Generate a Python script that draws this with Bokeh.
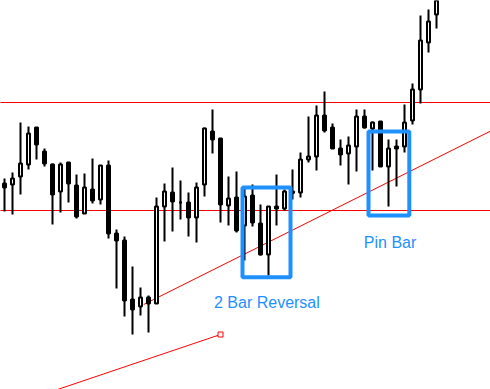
from bokeh.plotting import figure
from bokeh.models import Range1d, ColumnDataSource
from bokeh.embed import file_html
from bokeh.resources import INLINE
from bokeh.core.properties import value

# OHLC prices per bar (index 0 = oldest)
opens = [217, 216, 224, 236, 273, 249, 236, 209, 238, 215, 187, 211, 201, 235, 167, 160, 101, 94, 103, 97,
         194, 208, 198, 198, 183, 216, 269, 262, 195, 203, 175, 205, 177, 146, 194, 192, 209, 208, 241, 244,
         285, 273, 252, 247, 254, 284, 272, 279, 234, 254, 254, 280, 311, 358, 386]
highs = [222, 228, 278, 274, 273, 252, 237, 238, 238, 226, 227, 242, 235, 240, 171, 164, 134, 113, 105, 203,
         217, 233, 220, 208, 218, 273, 291, 262, 224, 229, 214, 216, 196, 194, 226, 211, 231, 248, 284, 295,
         309, 277, 261, 264, 291, 291, 279, 279, 261, 261, 296, 317, 385, 391, 410]
lows = [189, 186, 206, 231, 241, 234, 176, 188, 198, 182, 187, 197, 196, 162, 112, 84, 66, 85, 68, 97,
        159, 169, 181, 164, 158, 204, 247, 178, 175, 168, 140, 174, 145, 125, 175, 190, 201, 203, 238, 230,
        268, 252, 235, 216, 229, 272, 230, 234, 194, 214, 248, 276, 297, 348, 372]
closes = [213, 222, 237, 267, 256, 237, 206, 236, 217, 184, 213, 200, 235, 167, 160, 100, 91, 103, 97, 194,
          209, 199, 198, 183, 213, 272, 261, 196, 202, 170, 204, 178, 146, 194, 192, 209, 207.5, 241, 244, 285,
          270, 252, 246, 255, 284, 273, 278, 234, 252, 252, 278, 311, 360, 379, 405]

# Horizontal support / resistance levels
levels = [298, 190]

# Trend lines as (bar index, price) anchor pairs
trend_up_x = [17.4, 60.75]
trend_up_y = [96, 269.4]
trend_low_x = [6.5, 27]
trend_low_y = [10.65, 66]

# Pattern boxes: left, right, bottom, top (bar index / price)
box_left = [29.75, 45.5]
box_right = [35.75, 50.6]
box_bottom = [123.3, 185]
box_top = [213, 269]

# Pattern labels
label_text = ["2 Bar Reversal", "Pin Bar"]
label_x = [32.8, 48.2]
label_y = [98, 158.5]

RED = "#ff0000"
BLUE = "#1e90ff"

n = len(opens)
idx = list(range(n))
bull = [c >= o for o, c in zip(opens, closes)]
src = ColumnDataSource(dict(
    x=idx,
    high=highs,
    low=lows,
    top=[max(o, c) for o, c in zip(opens, closes)],
    bottom=[min(o, c) for o, c in zip(opens, closes)],
    fill=["white" if b else "black" for b in bull],
))

p = figure(width=490, height=389, output_backend="svg", toolbar_location=None,
           x_range=Range1d(-0.5, 60.75), y_range=Range1d(11, 400),
           min_border=0, background_fill_color="white", border_fill_color="white")
p.axis.visible = False
p.grid.visible = False
p.outline_line_color = None

# Levels and trend lines sit behind the candles
for lv in levels:
    p.line(x=[-1, 62], y=[lv, lv], line_color=RED, line_width=1)
p.line(x=trend_up_x, y=trend_up_y, line_color=RED, line_width=1)
p.line(x=trend_low_x, y=trend_low_y, line_color=RED, line_width=1)
p.scatter(x=trend_low_x[-1:], y=trend_low_y[-1:], marker="square", size=5,
          fill_color="white", line_color=RED, line_width=1)

# Candles
p.segment(x0="x", y0="low", x1="x", y1="high", source=src, line_color="black", line_width=2)
p.vbar(x="x", top="top", bottom="bottom", width=0.375, source=src,
       fill_color="fill", line_color="black", line_width=2)

# Pattern boxes and labels
p.quad(left=box_left, right=box_right, bottom=box_bottom, top=box_top,
       fill_color=None, line_color=BLUE, line_width=4)
p.text(x=label_x, y=label_y, text=label_text, text_align="center", text_baseline="alphabetic",
       text_color=BLUE, text_font=value("Liberation Sans"), text_font_size="16px")

open("out.html", "w").write(file_html(p, INLINE))
